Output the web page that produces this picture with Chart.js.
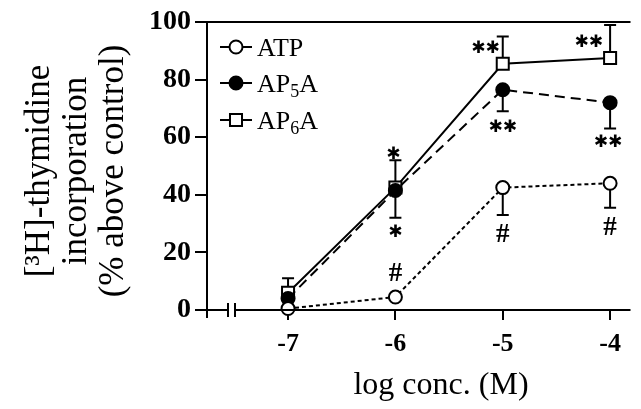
<!DOCTYPE html>
<html>
<head>
<meta charset="utf-8">
<script src="https://cdn.jsdelivr.net/npm/chart.js@4/dist/chart.umd.min.js"></script>
<style>
  html, body { margin: 0; padding: 0; background: #fff; }
  #wrap { width: 641px; height: 409px; position: relative; }
</style>
</head>
<body>
<div id="wrap"><canvas id="chart"></canvas></div>
<script>
// log concentrations (M)
const logConc = [-7, -6, -5, -4];
const yTickValues = [0, 20, 40, 60, 80, 100];

const seriesNames = ["ATP", "AP5A", "AP6A"];

const atpValues = [0.5, 4.5, 42.5, 44];
const ap5aValues = [4, 41.5, 76.5, 72];
const ap6aValues = [6, 42.5, 85.5, 87.5];

// one-sided error bars (SEM)
const atpErrDown = [0, 0, 9.5, 8.5];
const ap5aErrDown = [0, 9.5, 7.5, 9];
const ap6aErrUp = [5, 9.5, 9.5, 11.5];

// significance marks, placed in data units
const sigMarks = [
  { text: "✱✱", x: -5.16, y: 90.6 },
  { text: "✱✱", x: -4.2, y: 92.7 },
  { text: "✱✱", x: -5.0, y: 63.5 },
  { text: "✱✱", x: -4.02, y: 58 },
  { text: "✱", x: -6.02, y: 54 },
  { text: "✱", x: -6.0, y: 27 },
  { text: "#", x: -6.0, y: 12.5 },
  { text: "#", x: -5.0, y: 26 },
  { text: "#", x: -4.0, y: 28.5 },
];

const SERIF = "'Liberation Serif', 'Times New Roman', serif";

const errorBars = {
  id: "errorBars",
  beforeDatasetsDraw(chart) {
    const ctx = chart.ctx;
    const ys = chart.scales.y;
    ctx.save();
    ctx.strokeStyle = "#000";
    ctx.lineWidth = 2;
    chart.data.datasets.forEach((ds, di) => {
      const meta = chart.getDatasetMeta(di);
      ds.data.forEach((pt, i) => {
        const el = meta.data[i];
        const up = ds.errUp ? ds.errUp[i] : 0;
        const down = ds.errDown ? ds.errDown[i] : 0;
        [[up, 1], [down, -1]].forEach(([e, s]) => {
          if (!e) return;
          const yEnd = ys.getPixelForValue(pt.y + s * e);
          ctx.beginPath();
          ctx.moveTo(el.x, el.y);
          ctx.lineTo(el.x, yEnd);
          ctx.moveTo(el.x - 6, yEnd);
          ctx.lineTo(el.x + 6, yEnd);
          ctx.stroke();
        });
      });
    });
    ctx.restore();
  },
};

const decorations = {
  id: "decorations",
  afterDraw(chart) {
    const ctx = chart.ctx;
    const a = chart.chartArea;
    const xs = chart.scales.x;
    const ys = chart.scales.y;
    ctx.save();
    ctx.strokeStyle = "#000";
    ctx.fillStyle = "#000";
    ctx.lineWidth = 2;

    // axes: left, top, and broken bottom
    ctx.beginPath();
    ctx.moveTo(a.left, a.top);
    ctx.lineTo(a.left, a.bottom + 8);
    ctx.moveTo(a.left, a.top);
    ctx.lineTo(a.right, a.top);
    ctx.moveTo(a.left, a.bottom);
    ctx.lineTo(a.left + 21, a.bottom);
    ctx.moveTo(a.left + 21, a.bottom - 7);
    ctx.lineTo(a.left + 21, a.bottom + 7);
    ctx.moveTo(a.left + 28, a.bottom - 7);
    ctx.lineTo(a.left + 28, a.bottom + 7);
    ctx.moveTo(a.left + 28, a.bottom);
    ctx.lineTo(a.right, a.bottom);
    ctx.stroke();

    // significance marks
    ctx.textAlign = "center";
    ctx.textBaseline = "middle";
    sigMarks.forEach((m) => {
      ctx.font = m.text === "#" ? "bold 27px " + SERIF : "bold 17px 'DejaVu Sans'";
      ctx.fillText(m.text, xs.getPixelForValue(m.x), ys.getPixelForValue(m.y));
    });

    // legend
    const rows = [47, 83, 120];
    chart.data.datasets.forEach((ds, i) => {
      const y = rows[i];
      ctx.setLineDash([]);
      ctx.lineWidth = 2;
      ctx.beginPath();
      ctx.moveTo(220, y);
      ctx.lineTo(252, y);
      ctx.stroke();
      ctx.fillStyle = ds.pointBackgroundColor;
      ctx.beginPath();
      if (ds.pointStyle === "circle") {
        ctx.arc(236, y, ds.pointRadius, 0, Math.PI * 2);
      } else {
        const h = ds.pointRadius * Math.SQRT1_2;
        ctx.rect(236 - h, y - h, 2 * h, 2 * h);
      }
      ctx.fill();
      ctx.stroke();
      ctx.fillStyle = "#000";
      ctx.textAlign = "left";
      ctx.textBaseline = "alphabetic";
      const name = seriesNames[i];
      let x = 257;
      const base = y + 9;
      if (name === "ATP") {
        ctx.font = "26px " + SERIF;
        ctx.fillText(name, x, base);
      } else {
        ctx.font = "26px " + SERIF;
        ctx.fillText("AP", x, base);
        x += ctx.measureText("AP").width;
        ctx.font = "18px " + SERIF;
        ctx.fillText(name.charAt(2), x, base + 5);
        x += ctx.measureText(name.charAt(2)).width;
        ctx.font = "26px " + SERIF;
        ctx.fillText("A", x, base);
      }
    });

    // axis titles
    ctx.textAlign = "center";
    ctx.textBaseline = "middle";
    ctx.font = "32px " + SERIF;
    ctx.fillText("log conc. (M)", 441, 386);

    ctx.save();
    ctx.translate(0, 171);
    ctx.rotate(-Math.PI / 2);
    ctx.font = "35px " + SERIF;
    ctx.fillText("[³H]-thymidine", 0, 40);
    ctx.fillText("incorporation", 0, 77);
    ctx.fillText("(% above control)", 0, 114);
    ctx.restore();

    ctx.restore();
  },
};

function points(values) {
  return values.map((v, i) => ({ x: logConc[i], y: v }));
}

new Chart(document.getElementById("chart"), {
  type: "line",
  data: {
    datasets: [
      {
        label: "ATP",
        data: points(atpValues),
        errDown: atpErrDown,
        borderColor: "#000",
        borderWidth: 2,
        borderDash: [4, 3],
        pointStyle: "circle",
        pointRadius: 6.5,
        pointBackgroundColor: "#fff",
        pointBorderColor: "#000",
        pointBorderWidth: 2,
      },
      {
        label: "AP5A",
        data: points(ap5aValues),
        errDown: ap5aErrDown,
        borderColor: "#000",
        borderWidth: 2,
        borderDash: [10, 6],
        pointStyle: "circle",
        pointRadius: 6.5,
        pointBackgroundColor: "#000",
        pointBorderColor: "#000",
        pointBorderWidth: 2,
      },
      {
        label: "AP6A",
        data: points(ap6aValues),
        errUp: ap6aErrUp,
        borderColor: "#000",
        borderWidth: 2,
        pointStyle: "rect",
        pointRadius: 8.5,
        pointBackgroundColor: "#fff",
        pointBorderColor: "#000",
        pointBorderWidth: 2,
      },
    ],
  },
  options: {
    responsive: true,
    maintainAspectRatio: false,
    animation: false,
    clip: false,
    layout: { padding: { top: 22, left: 0, right: 0, bottom: 0 } },
    plugins: { legend: { display: false }, tooltip: { enabled: false } },
    scales: {
      x: {
        type: "linear",
        min: -7.755,
        max: -3.81,
        afterBuildTicks(scale) {
          scale.ticks = logConc.map((v) => ({ value: v }));
        },
        afterFit(scale) { scale.height = 99; },
        border: { display: false },
        grid: { drawOnChartArea: false, tickLength: 10, color: "#000", lineWidth: 2 },
        ticks: {
          color: "#000",
          padding: 9,
          font: { family: SERIF, size: 26, weight: "bold" },
        },
      },
      y: {
        min: 0,
        max: 100,
        afterBuildTicks(scale) {
          scale.ticks = yTickValues.map((v) => ({ value: v }));
        },
        afterFit(scale) { scale.width = 207; },
        border: { display: false },
        grid: { drawOnChartArea: false, tickLength: 12, color: "#000", lineWidth: 2 },
        ticks: {
          color: "#000",
          padding: 4,
          font: { family: SERIF, size: 28, weight: "bold" },
        },
      },
    },
  },
  plugins: [errorBars, decorations],
});
</script>
</body>
</html>
